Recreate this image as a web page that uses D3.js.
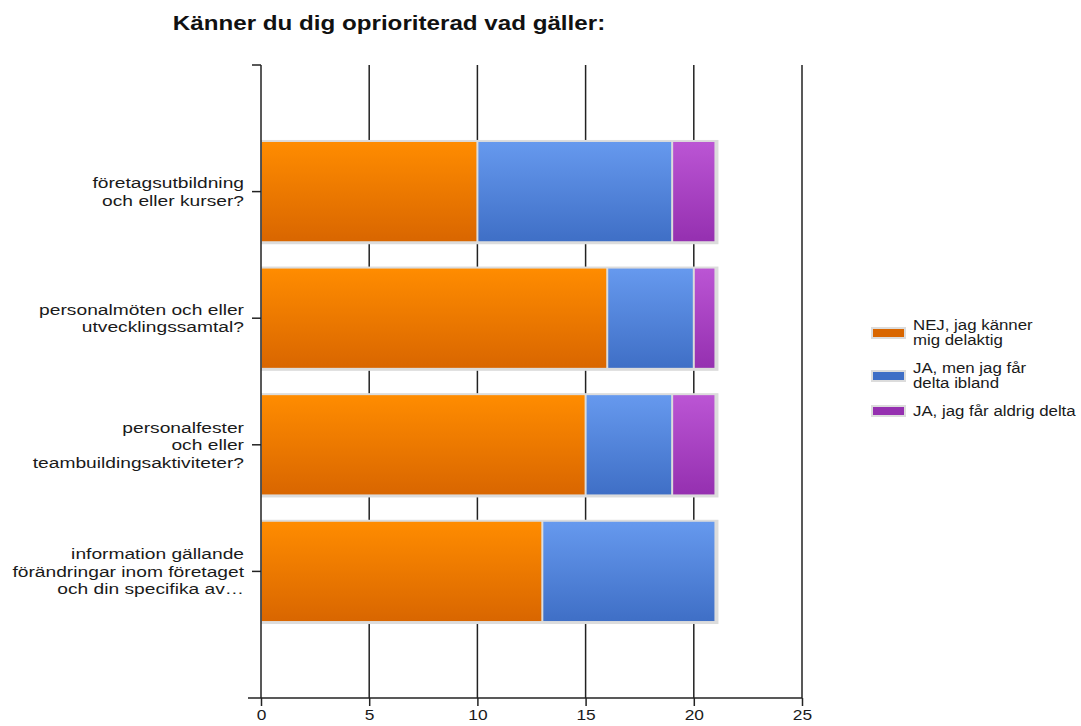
<!DOCTYPE html>
<html>
<head>
<meta charset="utf-8">
<script src="https://cdn.jsdelivr.net/npm/d3@7"></script>
<style>
  body { margin: 0; background: #fff; }
  svg { display: block; font-family: "Liberation Sans", Arial, sans-serif; }
</style>
</head>
<body>
<svg id="chart" width="1081" height="726"></svg>
<script>
// Survey answers per question
const categories = [
  ["företagsutbildning", "och eller kurser?"],
  ["personalmöten och eller", "utvecklingssamtal?"],
  ["personalfester", "och eller", "teambuildingsaktiviteter?"],
  ["information gällande", "förändringar inom företaget", "och din specifika av…"]
];
const seriesNames = [
  ["NEJ, jag känner", "mig delaktig"],
  ["JA, men jag får", "delta ibland"],
  ["JA, jag får aldrig delta"]
];
const nejValues = [10, 16, 15, 13];
const jaIblandValues = [9, 4, 4, 8];
const jaAldrigValues = [2, 1, 2, 0];
const xTicks = [0, 5, 10, 15, 20, 25];
const title = "Känner du dig oprioriterad vad gäller:";

const series = [nejValues, jaIblandValues, jaAldrigValues];
const colors = [
  { top: "#ff8c00", bottom: "#d96600" },
  { top: "#6699ee", bottom: "#3f6fc6" },
  { top: "#bb55d4", bottom: "#9530b0" }
];

// the chart's lettering is set slightly wide
const textStretch = 1.24;

const svg = d3.select("#chart");
const plotLeft = 261, plotRight = 802, plotTop = 65, plotBottom = 698;

const x = d3.scaleLinear().domain([0, 25]).range([plotLeft, plotRight]);
// categories sit at positions 1..4 on a 0..5 axis
const y = d3.scaleLinear().domain([0, categories.length + 1]).range([plotTop, plotBottom]);
const step = y(1) - y(0);
const barH = step * 0.8;

function wideText(parent, tx, ty, sx = textStretch) {
  return parent.append("g")
    .attr("transform", `translate(${tx},${ty}) scale(${sx},1)`)
    .append("text");
}

// gradients
const defs = svg.append("defs");
colors.forEach((c, i) => {
  const g = defs.append("linearGradient").attr("id", "grad" + i)
    .attr("x1", 0).attr("y1", 0).attr("x2", 0).attr("y2", 1);
  g.append("stop").attr("offset", "0%").attr("stop-color", c.top);
  g.append("stop").attr("offset", "100%").attr("stop-color", c.bottom);
});

// title
wideText(svg, 389, 30)
  .attr("text-anchor", "middle")
  .attr("font-size", 19.5).attr("font-weight", "bold")
  .attr("fill", "#111")
  .text(title);

// vertical grid lines
svg.append("g").selectAll("line").data(xTicks.slice(1)).join("line")
  .attr("x1", d => x(d)).attr("x2", d => x(d))
  .attr("y1", plotTop).attr("y2", plotBottom)
  .attr("stroke", "#222").attr("stroke-width", 1.5);

// stacked bars
const stackData = categories.map((c, i) => {
  let acc = 0;
  return series.map((s, k) => {
    const seg = { k, i, x0: acc, x1: acc + s[i] };
    acc += s[i];
    return seg;
  }).filter(d => d.x1 > d.x0);
});

const barG = svg.append("g");
stackData.forEach((segs, i) => {
  const yc = y(i + 1);
  const total = segs[segs.length - 1].x1;
  // frame behind the bar
  barG.append("rect")
    .attr("x", x(0)).attr("y", yc - barH / 2 - 1)
    .attr("width", x(total) - x(0) + 3).attr("height", barH + 3)
    .attr("fill", "#dcdcdc");
  barG.selectAll(null).data(segs).join("rect")
    .attr("x", d => x(d.x0) + 1)
    .attr("y", yc - barH / 2 + 1)
    .attr("width", d => x(d.x1) - x(d.x0) - 2)
    .attr("height", barH - 2)
    .attr("fill", d => `url(#grad${d.k})`);
});

// left axis
const yAxis = svg.append("g");
yAxis.append("line")
  .attr("x1", plotLeft).attr("x2", plotLeft).attr("y1", plotTop).attr("y2", plotBottom)
  .attr("stroke", "#222").attr("stroke-width", 1.5);
yAxis.append("line")
  .attr("x1", plotLeft - 9).attr("x2", plotLeft).attr("y1", plotTop).attr("y2", plotTop)
  .attr("stroke", "#222").attr("stroke-width", 1.5);
categories.forEach((lines, i) => {
  const yc = y(i + 1);
  yAxis.append("line")
    .attr("x1", plotLeft - 9).attr("x2", plotLeft).attr("y1", yc).attr("y2", yc)
    .attr("stroke", "#222").attr("stroke-width", 1.5);
  const lh = 17.5;
  const t = wideText(yAxis, plotLeft - 17, yc)
    .attr("text-anchor", "end")
    .attr("font-size", 15.5).attr("fill", "#1a1a1a");
  lines.forEach((ln, j) => {
    t.append("tspan")
      .attr("x", 0)
      .attr("y", (j - (lines.length - 1) / 2) * lh + 5.5)
      .text(ln);
  });
});

// bottom axis
const xAxis = svg.append("g").attr("transform", `translate(0,${plotBottom})`)
  .call(d3.axisBottom(x).tickValues(xTicks).tickSize(8).tickPadding(3));
xAxis.select(".domain").remove();
xAxis.selectAll(".tick line").attr("stroke", "#222").attr("stroke-width", 1.5);
xAxis.selectAll(".tick text")
  .attr("font-size", 15.5).attr("fill", "#1a1a1a")
  .attr("transform", "scale(1.12,1)")
  .attr("font-family", "'Liberation Sans', Arial, sans-serif");
svg.append("line")
  .attr("x1", 248).attr("x2", plotRight).attr("y1", plotBottom).attr("y2", plotBottom)
  .attr("stroke", "#222").attr("stroke-width", 1.5);

// legend
const legendRows = [333, 376, 411];
const legend = svg.append("g");
seriesNames.forEach((lines, k) => {
  const ly = legendRows[k];
  legend.append("rect")
    .attr("x", 871).attr("y", ly - 6).attr("width", 35).attr("height", 12)
    .attr("fill", "#dcdcdc");
  legend.append("rect")
    .attr("x", 873).attr("y", ly - 4).attr("width", 31).attr("height", 8)
    .attr("fill", colors[k].bottom);
  const t = wideText(legend, 913, ly, 1.22)
    .attr("font-size", 13.8).attr("fill", "#1a1a1a");
  lines.forEach((ln, j) => {
    t.append("tspan")
      .attr("x", 0)
      .attr("y", (j - (lines.length - 1) / 2) * 15 + 4.5)
      .text(ln);
  });
});
</script>
</body>
</html>
